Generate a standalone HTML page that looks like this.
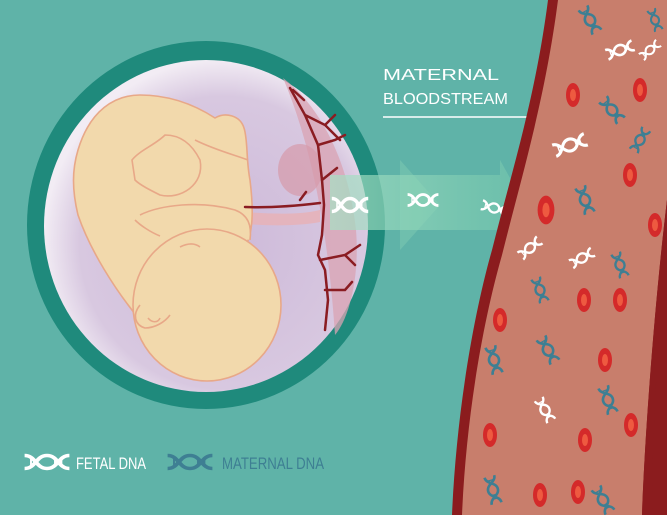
<!DOCTYPE html>
<html><head><meta charset="utf-8"><style>
html,body{margin:0;padding:0;background:#5fb3a8;}
svg{display:block}
text{font-family:"Liberation Sans",sans-serif;}
</style></head><body>
<svg width="667" height="515" viewBox="0 0 667 515" xmlns="http://www.w3.org/2000/svg">
<defs>
<radialGradient id="inner" cx="0.55" cy="0.55" r="0.55">
<stop offset="0" stop-color="#cdb9d9"/><stop offset="0.8" stop-color="#d8c8e0"/><stop offset="1" stop-color="#f2ecf4"/>
</radialGradient>
<linearGradient id="arr" x1="0" x2="1">
<stop offset="0" stop-color="#a8e0c4" stop-opacity="0.9"/><stop offset="1" stop-color="#7fd0b0" stop-opacity="0.5"/>
</linearGradient>
<g id="dna">
<path d="M-14,-5 C-7,-5 -7,5 0,5 C7,5 7,-5 14,-5" fill="none" stroke-width="2.6"/>
<path d="M-14,5 C-7,5 -7,-5 0,-5 C7,-5 7,5 14,5" fill="none" stroke-width="2.6"/>
<path d="M-10,-3V3M-6,-2V2M5,-2V2M9,-3V3" stroke-width="1.2"/>
</g>
<g id="rbc"><ellipse rx="7" ry="12" fill="#d42a2a"/><ellipse rx="3" ry="6" fill="#ee5a40"/></g>
</defs>
<rect width="667" height="515" fill="#5fb3a8"/>
<!-- womb -->
<ellipse cx="206" cy="225" rx="179" ry="184" fill="#1f8a7c"/>
<ellipse cx="206" cy="226" rx="162" ry="166" fill="url(#inner)"/>
<!-- placenta -->
<path d="M283,78 C325,110 350,170 356,230 C360,280 348,320 335,335 C330,260 318,160 283,78Z" fill="#d9a3b3" opacity="0.75"/>
<ellipse cx="300" cy="170" rx="22" ry="26" fill="#d59aaa" opacity="0.7"/>
<path d="M245,212 C270,214 300,215 320,210 L320,222 C300,226 270,226 245,224Z" fill="#e4b4bd"/>
<!-- fetus -->
<g fill="#f2d9ac" stroke="#e8a888" stroke-width="1.6" stroke-linejoin="round">
<path d="M78,150 C90,110 115,95 140,95 C170,95 195,105 215,118 C225,112 240,115 244,128 C248,140 246,160 250,180 C253,205 254,230 246,245 L200,300 L140,320 C115,290 90,250 78,215 C72,190 72,170 78,150Z"/>
<path d="M195,140 C215,150 235,155 248,160"/>
<path d="M132,160 C140,150 155,145 165,135 C185,135 195,150 200,160 C205,185 180,200 160,195 C150,190 140,185 135,180 Z"/>
<path d="M140,215 C160,205 200,200 235,210 C248,215 252,225 250,240"/>
<path d="M135,220 C140,225 150,232 160,236"/>
<ellipse cx="207" cy="305" rx="74" ry="76"/>
<path d="M140,305 C132,315 135,325 145,328 C155,328 165,322 170,315" fill="none"/>
<path d="M148,318 C152,323 158,323 160,318" fill="none"/>
<path d="M180,247 C188,243 195,243 200,247" fill="none"/>
</g>
<!-- vessels -->
<g stroke="#8a1c22" stroke-width="2.5" fill="none" stroke-linecap="round">
<path d="M290,88 L305,115 L318,145 L322,180 L324,205 L322,235 L318,255 L325,270 L328,300 L325,330"/>
<path d="M245,207 C270,208 295,206 320,203"/>
<path d="M305,115 L325,125 L335,115 M318,145 L335,140 L345,135 M325,125 L340,140 M322,180 L337,168 M320,260 L345,255 L360,245 M345,255 L355,265 M325,290 L345,290 L352,282 M300,200 L306,192 M304,100 L293,90"/>
</g>
<!-- arrows -->
<path d="M330,175 L500,175 L500,160 L525,205 L500,245 L500,230 L330,230Z" fill="url(#arr)" opacity="0.8"/>
<path d="M400,160 L440,205 L400,250Z" fill="#8fd6b8" opacity="0.35"/>
<g stroke="#fff" fill="#fff">
<use href="#dna" transform="translate(350,205) scale(1.3)"/>
<use href="#dna" transform="translate(423,200) scale(1.1)"/>
<use href="#dna" transform="translate(494,208) scale(0.9) rotate(15)"/>
</g>
<!-- text -->
<text x="383" y="80" font-size="16" fill="#fff" textLength="116" lengthAdjust="spacingAndGlyphs">MATERNAL</text>
<text x="383" y="104" font-size="16" fill="#fff" textLength="125" lengthAdjust="spacingAndGlyphs">BLOODSTREAM</text>
<line x1="383" y1="117" x2="567" y2="117" stroke="#fff" stroke-width="1.5"/>
<!-- blood vessel -->
<path d="M548,0 C535,100 512,170 492,250 C472,320 456,420 452,515 L667,515 L667,0Z" fill="#8b1c1e"/>
<path d="M558,0 C545,100 522,175 502,255 C482,325 466,420 462,515 L642,515 C645,430 655,300 667,200 L667,0Z" fill="#c87e6c"/>
<path d="M642,515 C645,430 655,300 667,200 L667,230 C660,300 652,430 652,515Z" fill="#8b1c1e"/>
<g>
<use href="#rbc" transform="translate(573,95)"/>
<use href="#rbc" transform="translate(640,90)"/>
<use href="#rbc" transform="translate(630,175)"/>
<use href="#rbc" transform="translate(546,210) scale(1.2)"/>
<use href="#rbc" transform="translate(655,225)"/>
<use href="#rbc" transform="translate(500,320)"/>
<use href="#rbc" transform="translate(584,300)"/>
<use href="#rbc" transform="translate(620,300)"/>
<use href="#rbc" transform="translate(605,360)"/>
<use href="#rbc" transform="translate(490,435)"/>
<use href="#rbc" transform="translate(585,440)"/>
<use href="#rbc" transform="translate(631,425)"/>
<use href="#rbc" transform="translate(578,492)"/>
<use href="#rbc" transform="translate(540,495)"/>
</g>
<g stroke="#3e7f93" fill="#3e7f93">
<use href="#dna" transform="translate(590,20) rotate(60)"/>
<use href="#dna" transform="translate(612,110) rotate(50)"/>
<use href="#dna" transform="translate(640,140) rotate(-60) scale(0.9)"/>
<use href="#dna" transform="translate(585,200) rotate(70)"/>
<use href="#dna" transform="translate(620,265) rotate(70) scale(0.9)"/>
<use href="#dna" transform="translate(540,290) rotate(70) scale(0.9)"/>
<use href="#dna" transform="translate(548,350) rotate(60)"/>
<use href="#dna" transform="translate(494,360) rotate(75)"/>
<use href="#dna" transform="translate(608,400) rotate(70)"/>
<use href="#dna" transform="translate(493,490) rotate(75)"/>
<use href="#dna" transform="translate(603,500) rotate(60)"/>
<use href="#dna" transform="translate(655,20) rotate(70) scale(0.8)"/>
</g>
<g stroke="#fff" fill="#fff">
<use href="#dna" transform="translate(620,50) rotate(-20)"/>
<use href="#dna" transform="translate(570,145) rotate(-20) scale(1.2)"/>
<use href="#dna" transform="translate(530,248) rotate(-40) scale(0.9)"/>
<use href="#dna" transform="translate(582,258) rotate(-30) scale(0.9)"/>
<use href="#dna" transform="translate(545,410) rotate(60) scale(0.9)"/>
<use href="#dna" transform="translate(650,50) rotate(-40) scale(0.8)"/>
</g>
<!-- legend -->
<g stroke="#fff" fill="#fff"><use href="#dna" transform="translate(47,462) scale(1.6,1.3)"/></g>
<text x="76" y="469" font-size="17" fill="#fff" textLength="70" lengthAdjust="spacingAndGlyphs">FETAL DNA</text>
<g stroke="#3e7f93" fill="#3e7f93"><use href="#dna" transform="translate(190,462) scale(1.6,1.3)"/></g>
<text x="222" y="469" font-size="17" fill="#3e7f93" textLength="102" lengthAdjust="spacingAndGlyphs">MATERNAL DNA</text>
</svg>
</body></html>
